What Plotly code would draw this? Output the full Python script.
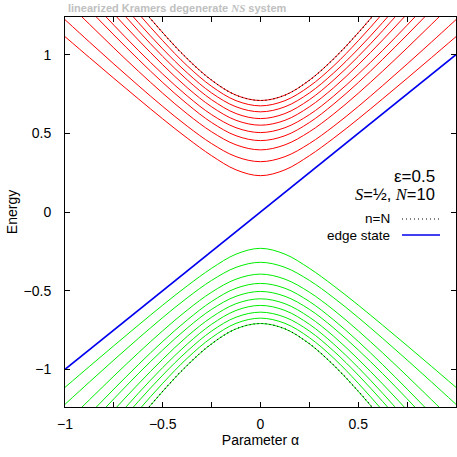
import plotly.graph_objects as go

alpha = [-1, -0.875, -0.75, -0.625, -0.5, -0.375, -0.25, -0.125, 0,
         0.125, 0.25, 0.375, 0.5, 0.625, 0.75, 0.875, 1]

upper_bands = [
    [1.115, 0.982, 0.850, 0.720, 0.592, 0.470, 0.358, 0.268, 0.231, 0.268, 0.358, 0.470, 0.592, 0.720, 0.850, 0.982, 1.115],
    [1.223, 1.081, 0.941, 0.804, 0.671, 0.546, 0.435, 0.352, 0.320, 0.352, 0.435, 0.546, 0.671, 0.804, 0.941, 1.081, 1.223],
    [1.346, 1.194, 1.043, 0.896, 0.755, 0.624, 0.510, 0.427, 0.395, 0.427, 0.510, 0.624, 0.755, 0.896, 1.043, 1.194, 1.346],
    [1.447, 1.285, 1.126, 0.971, 0.823, 0.687, 0.569, 0.485, 0.454, 0.485, 0.569, 0.687, 0.823, 0.971, 1.126, 1.285, 1.447],
    [1.520, 1.352, 1.188, 1.028, 0.877, 0.738, 0.619, 0.536, 0.505, 0.536, 0.619, 0.738, 0.877, 1.028, 1.188, 1.352, 1.520],
    [1.608, 1.432, 1.260, 1.094, 0.936, 0.791, 0.669, 0.583, 0.552, 0.583, 0.669, 0.791, 0.936, 1.094, 1.260, 1.432, 1.608],
    [1.690, 1.506, 1.327, 1.153, 0.989, 0.840, 0.714, 0.626, 0.594, 0.626, 0.714, 0.840, 0.989, 1.153, 1.327, 1.506, 1.690],
    [1.756, 1.567, 1.383, 1.205, 1.037, 0.885, 0.757, 0.669, 0.637, 0.669, 0.757, 0.885, 1.037, 1.205, 1.383, 1.567, 1.756],
    [1.836, 1.640, 1.448, 1.263, 1.089, 0.930, 0.799, 0.708, 0.675, 0.708, 0.799, 0.930, 1.089, 1.263, 1.448, 1.640, 1.836],
    [1.920, 1.715, 1.515, 1.322, 1.140, 0.975, 0.838, 0.743, 0.709, 0.743, 0.838, 0.975, 1.140, 1.322, 1.515, 1.715, 1.920],
]

lower_bands = [
    [-1.115, -0.982, -0.850, -0.720, -0.592, -0.470, -0.358, -0.268, -0.231, -0.268, -0.358, -0.470, -0.592, -0.720, -0.850, -0.982, -1.115],
    [-1.223, -1.081, -0.941, -0.804, -0.671, -0.546, -0.435, -0.352, -0.320, -0.352, -0.435, -0.546, -0.671, -0.804, -0.941, -1.081, -1.223],
    [-1.346, -1.194, -1.043, -0.896, -0.755, -0.624, -0.510, -0.427, -0.395, -0.427, -0.510, -0.624, -0.755, -0.896, -1.043, -1.194, -1.346],
    [-1.447, -1.285, -1.126, -0.971, -0.823, -0.687, -0.569, -0.485, -0.454, -0.485, -0.569, -0.687, -0.823, -0.971, -1.126, -1.285, -1.447],
    [-1.520, -1.352, -1.188, -1.028, -0.877, -0.738, -0.619, -0.536, -0.505, -0.536, -0.619, -0.738, -0.877, -1.028, -1.188, -1.352, -1.520],
    [-1.608, -1.432, -1.260, -1.094, -0.936, -0.791, -0.669, -0.583, -0.552, -0.583, -0.669, -0.791, -0.936, -1.094, -1.260, -1.432, -1.608],
    [-1.690, -1.506, -1.327, -1.153, -0.989, -0.840, -0.714, -0.626, -0.594, -0.626, -0.714, -0.840, -0.989, -1.153, -1.327, -1.506, -1.690],
    [-1.756, -1.567, -1.383, -1.205, -1.037, -0.885, -0.757, -0.669, -0.637, -0.669, -0.757, -0.885, -1.037, -1.205, -1.383, -1.567, -1.756],
    [-1.836, -1.640, -1.448, -1.263, -1.089, -0.930, -0.799, -0.708, -0.675, -0.708, -0.799, -0.930, -1.089, -1.263, -1.448, -1.640, -1.836],
    [-1.920, -1.715, -1.515, -1.322, -1.140, -0.975, -0.838, -0.743, -0.709, -0.743, -0.838, -0.975, -1.140, -1.322, -1.515, -1.715, -1.920],
]

nN_upper = [1.920, 1.715, 1.515, 1.322, 1.140, 0.975, 0.838, 0.743, 0.709, 0.743, 0.838, 0.975, 1.140, 1.322, 1.515, 1.715, 1.920]
nN_lower = [-1.920, -1.715, -1.515, -1.322, -1.140, -0.975, -0.838, -0.743, -0.709, -0.743, -0.838, -0.975, -1.140, -1.322, -1.515, -1.715, -1.920]

edge_alpha = [-1, 1]
edge_energy = [-1, 1]

x_tickvals = [-1, -0.75, -0.5, -0.25, 0, 0.25, 0.5, 0.75, 1]
x_ticktext = ["\u22121", "", "\u22120.5", "", "0", "", "0.5", "", "1"]
y_tickvals = [-1, -0.5, 0, 0.5, 1]
y_ticktext = ["\u22121", "\u22120.5", "0", "0.5", "1"]

FONT = "Liberation Sans, Arial, sans-serif"

W, H = 457, 457
L, R, T, B = 65, 456, 17, 407  # plot-area pixel edges


def px(xp):
    return (xp - L) / (R - L)


def py(yp):
    return (B - yp) / (B - T)


fig = go.Figure()
for band in upper_bands:
    fig.add_trace(go.Scatter(x=alpha, y=band, mode="lines",
                             line=dict(color="#ff0000", width=1, shape="spline", smoothing=1),
                             showlegend=False, hoverinfo="skip"))
for band in lower_bands:
    fig.add_trace(go.Scatter(x=alpha, y=band, mode="lines",
                             line=dict(color="#00ee00", width=1, shape="spline", smoothing=1),
                             showlegend=False, hoverinfo="skip"))
fig.add_trace(go.Scatter(x=edge_alpha, y=edge_energy, mode="lines",
                         line=dict(color="#0000ee", width=1.6), showlegend=False, hoverinfo="skip"))
for band in (nN_upper, nN_lower):
    fig.add_trace(go.Scatter(x=alpha, y=band, mode="lines",
                             line=dict(color="#000000", width=1.1, dash="1px,3px", shape="spline", smoothing=1),
                             showlegend=False, hoverinfo="skip"))

axis_common = dict(showgrid=False, zeroline=False, showline=True, linecolor="black",
                   linewidth=1, mirror="ticks", ticks="inside", ticklen=5, tickcolor="black",
                   automargin=False,
                   tickfont=dict(family=FONT, size=14, color="black"))

fig.update_xaxes(range=[-1, 1], tickmode="array", tickvals=x_tickvals, ticktext=x_ticktext,
                 ticklabelstandoff=4,
                 title=dict(text="Parameter \u03b1", font=dict(family=FONT, size=14, color="black"), standoff=4),
                 **axis_common)
fig.update_yaxes(range=[-1.24, 1.24], tickmode="array", tickvals=y_tickvals, ticktext=y_ticktext,
                 ticklabelstandoff=10,
                 title=dict(text="Energy", font=dict(family=FONT, size=14, color="black"), standoff=2),
                 **axis_common)

SERIF_I = "<i><span style='font-family:Liberation Serif'>{}</span></i>"

annotations = [
    dict(x=px(66), y=py(8), xref="paper", yref="paper", xanchor="left", yanchor="middle",
         text="<b>linearized Kramers degenerate " + SERIF_I.format("NS") + " system</b>",
         showarrow=False, font=dict(family=FONT, size=11, color="#c0c0c0")),
    dict(x=px(437), y=py(176), xref="paper", yref="paper", xanchor="right", yanchor="middle",
         text="\u03b5=0.5", showarrow=False, font=dict(family=FONT, size=17, color="black")),
    dict(x=px(437), y=py(194), xref="paper", yref="paper", xanchor="right", yanchor="middle",
         text=SERIF_I.format("S") + "=\u00bd, " + SERIF_I.format("N") + "=10",
         showarrow=False, font=dict(family=FONT, size=16.5, color="black")),
    dict(x=px(392), y=py(219), xref="paper", yref="paper", xanchor="right", yanchor="middle",
         text="n=N", showarrow=False, font=dict(family=FONT, size=13.5, color="black")),
    dict(x=px(392), y=py(235), xref="paper", yref="paper", xanchor="right", yanchor="middle",
         text="edge state", showarrow=False, font=dict(family=FONT, size=13.5, color="black")),
]

shapes = [
    dict(type="line", xref="paper", yref="paper", x0=px(402), x1=px(440),
         y0=py(219), y1=py(219), line=dict(color="black", width=1.1, dash="1px,3px")),
    dict(type="line", xref="paper", yref="paper", x0=px(402), x1=px(440),
         y0=py(235), y1=py(235), line=dict(color="#0000ee", width=1.6)),
]

fig.update_layout(width=W, height=H, margin=dict(l=L, r=W - R, t=T, b=H - B),
                  plot_bgcolor="white", paper_bgcolor="white",
                  annotations=annotations, shapes=shapes, showlegend=False,
                  font=dict(family=FONT, size=14, color="black"))

fig.write_html("out.html", config={"displayModeBar": False},
               post_script="document.documentElement.style.margin='0';"
                           "document.body.style.margin='0';"
                           "document.body.style.padding='0';"
                           "document.body.style.overflow='hidden';")
